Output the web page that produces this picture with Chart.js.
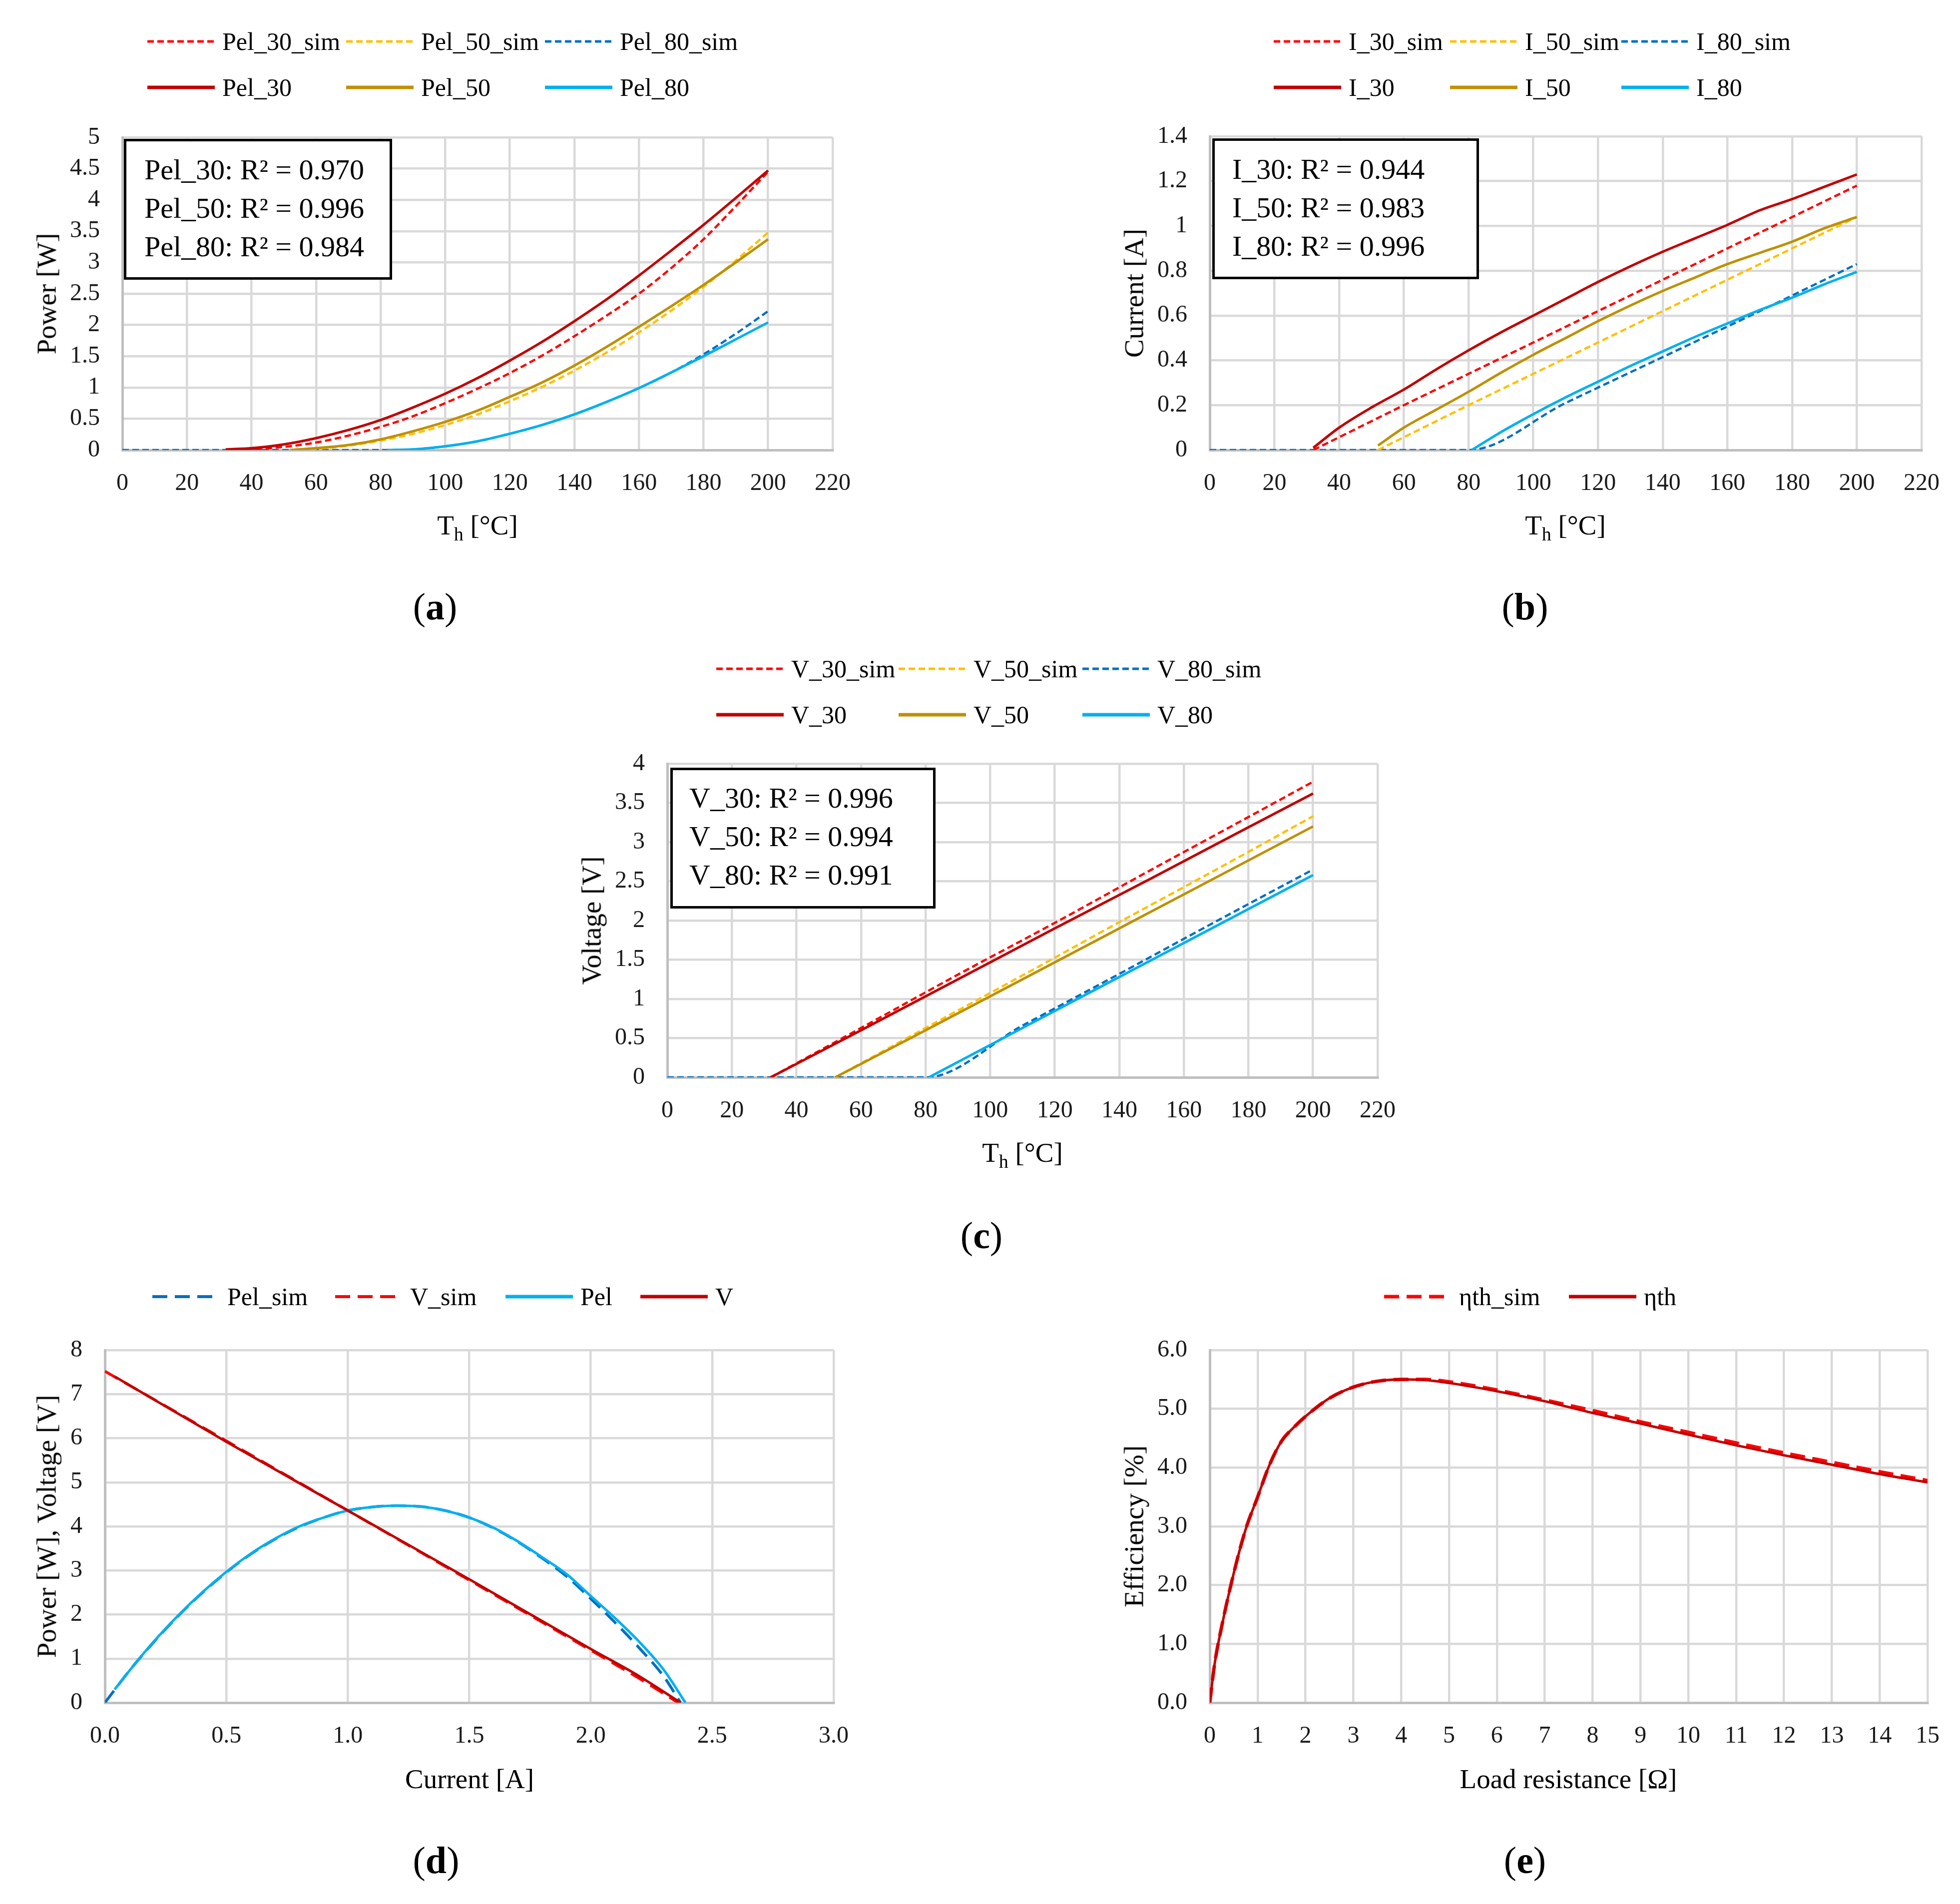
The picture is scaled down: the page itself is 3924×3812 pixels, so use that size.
<!DOCTYPE html>
<html>
<head>
<meta charset="utf-8">
<script src="https://cdn.jsdelivr.net/npm/chart.js@4.4.1/dist/chart.umd.min.js"></script>
<style>
html, body { margin: 0; padding: 0; background: #fff; }
#page { position: relative; width: 3924px; height: 3812px; background: #fff; overflow: hidden;
        font-family: 'Liberation Serif', 'Times New Roman', serif; color: #000; }
canvas { position: absolute; }
.abs { position: absolute; white-space: nowrap; line-height: 1; }
.ytitle { transform: translate(-50%, -50%) rotate(-90deg); font-size: 55px; }
.xtitle { transform: translate(-50%, -50%); font-size: 55px; }
.xtitle span { font-size: 38px; position: relative; top: 12px; }
.leg { display: flex; align-items: center; transform: translateY(-50%); font-size: 50px; }
.leg svg { margin-right: 15px; }
.rbox { border: 5px solid #000; box-sizing: border-box; font-size: 58px; line-height: 77px; background: #fff; }
.plabel { transform: translate(-50%, -50%); font-size: 76px; }
</style>
</head>
<body>
<div id="page"></div>
<script>
// Colours (Excel palette)
const RED = '#FF0000', YEL = '#FFC000', BLU = '#0070C0';
const DRED = '#C00000', GOLD = '#BF9000', LBLU = '#00B0F0';

// (a) Power vs Th
const pel30T = [32, 40, 50, 60, 70, 80, 90, 100, 110, 120, 130, 140, 150, 160, 170, 180, 190, 200];
const pel30 = [0.01, 0.03, 0.09, 0.19, 0.32, 0.48, 0.68, 0.9, 1.15, 1.43, 1.73, 2.06, 2.41, 2.79, 3.19, 3.6, 4.03, 4.47];
const pel30Sim = [0, 0.01, 0.05, 0.12, 0.23, 0.37, 0.54, 0.75, 0.98, 1.23, 1.51, 1.82, 2.15, 2.5, 2.91, 3.37, 3.9, 4.45];
const pel50T = [52, 60, 70, 80, 90, 100, 110, 120, 130, 140, 150, 160, 170, 180, 190, 200];
const pel50 = [0, 0.03, 0.08, 0.17, 0.3, 0.45, 0.63, 0.85, 1.08, 1.35, 1.65, 1.97, 2.3, 2.64, 3.0, 3.37];
const pel50Sim = [0, 0.02, 0.07, 0.15, 0.26, 0.4, 0.57, 0.78, 1.01, 1.27, 1.56, 1.88, 2.23, 2.61, 3.03, 3.48];
const pel80T = [82, 90, 100, 110, 120, 130, 140, 150, 160, 170, 180, 190, 200];
const pel80 = [0, 0.01, 0.06, 0.14, 0.26, 0.4, 0.57, 0.77, 0.99, 1.24, 1.5, 1.77, 2.04];
const pel80SimT = [0, 80, 90, 100, 110, 120, 130, 140, 150, 160, 170, 180, 190, 200];
const pel80Sim = [0, 0, 0.01, 0.06, 0.14, 0.26, 0.4, 0.57, 0.77, 0.99, 1.24, 1.53, 1.86, 2.22];

// (b) Current vs Th
const i30T = [32, 40, 50, 60, 70, 80, 90, 100, 110, 120, 130, 140, 150, 160, 170, 180, 190, 200];
const i30 = [0.01, 0.1, 0.19, 0.27, 0.36, 0.445, 0.525, 0.6, 0.675, 0.75, 0.82, 0.885, 0.945, 1.005, 1.07, 1.12, 1.175, 1.23];
const i30SimT = [32, 60, 90, 120, 150, 180, 200];
const i30Sim = [0, 0.2, 0.41, 0.62, 0.83, 1.04, 1.18];
const i50T = [52, 60, 70, 80, 90, 100, 110, 120, 130, 140, 150, 160, 170, 180, 190, 200];
const i50 = [0.02, 0.1, 0.18, 0.26, 0.345, 0.425, 0.5, 0.575, 0.645, 0.71, 0.77, 0.83, 0.88, 0.93, 0.99, 1.04];
const i50SimT = [52, 80, 110, 140, 170, 200];
const i50Sim = [0, 0.2, 0.41, 0.62, 0.83, 1.04];
const i80T = [81, 90, 100, 110, 120, 130, 140, 150, 160, 170, 180, 190, 200];
const i80 = [0, 0.08, 0.16, 0.235, 0.305, 0.375, 0.44, 0.505, 0.565, 0.625, 0.68, 0.74, 0.795];
const i80SimT = [0, 80, 110, 140, 170, 200];
const i80Sim = [0, 0, 0.21, 0.415, 0.62, 0.83];

// (c) Voltage vs Th
const v30T = [32, 60, 90, 120, 150, 180, 200];
const v30 = [0, 0.6, 1.25, 1.9, 2.54, 3.19, 3.62];
const v30Sim = [0, 0.63, 1.31, 1.97, 2.65, 3.32, 3.77];
const v50T = [52, 80, 110, 140, 170, 200];
const v50 = [0, 0.6, 1.25, 1.9, 2.55, 3.2];
const v50Sim = [0, 0.63, 1.3, 1.98, 2.65, 3.33];
const v80T = [81, 110, 140, 170, 200];
const v80 = [0, 0.63, 1.28, 1.93, 2.58];
const v80SimT = [0, 80, 110, 140, 170, 200];
const v80Sim = [0, 0, 0.66, 1.32, 1.99, 2.65];

// (d) Power and voltage vs current
const pelI = [0.04, 0.1, 0.2, 0.3, 0.4, 0.5, 0.6, 0.7, 0.8, 0.9, 1.0, 1.1, 1.2, 1.3, 1.4, 1.5, 1.6, 1.7, 1.8, 1.9, 2.0, 2.1, 2.2, 2.3, 2.39];
const pelD = [0.3, 0.72, 1.38, 1.97, 2.5, 2.97, 3.38, 3.72, 4.0, 4.2, 4.36, 4.44, 4.47, 4.45, 4.36, 4.2, 3.97, 3.66, 3.3, 2.92, 2.42, 1.92, 1.38, 0.75, 0];
const pelSimI = [0, 0.1, 0.2, 0.3, 0.4, 0.5, 0.6, 0.7, 0.8, 0.9, 1.0, 1.1, 1.2, 1.3, 1.4, 1.5, 1.6, 1.7, 1.8, 1.9, 2.0, 2.1, 2.2, 2.3, 2.37];
const pelSimD = [0, 0.72, 1.37, 1.96, 2.49, 2.96, 3.37, 3.71, 3.99, 4.2, 4.36, 4.44, 4.47, 4.45, 4.36, 4.2, 3.96, 3.65, 3.28, 2.87, 2.36, 1.82, 1.24, 0.6, 0];
const vI = [0.04, 0.5, 1.0, 1.5, 2.0, 2.2, 2.37];
const vD = [7.4, 5.92, 4.36, 2.8, 1.22, 0.6, 0];
const vSimI = [0, 0.5, 1.0, 1.5, 2.0, 2.2, 2.36];
const vSimD = [7.52, 5.94, 4.36, 2.78, 1.19, 0.55, 0];

// (e) Efficiency vs load resistance
const loadR = [0, 0.1, 0.25, 0.5, 0.75, 1, 1.25, 1.5, 1.75, 2, 2.5, 3, 3.5, 4, 4.5, 5, 6, 7, 8, 9, 10, 11, 12, 13, 14, 15];
const eta = [0, 0.65, 1.3, 2.2, 2.95, 3.5, 4.05, 4.45, 4.68, 4.87, 5.18, 5.37, 5.47, 5.5, 5.49, 5.44, 5.3, 5.13, 4.93, 4.75, 4.56, 4.38, 4.21, 4.05, 3.89, 3.75];
const etaSim = [0, 0.65, 1.3, 2.2, 2.95, 3.5, 4.05, 4.45, 4.68, 4.87, 5.18, 5.37, 5.47, 5.5, 5.5, 5.46, 5.32, 5.15, 4.97, 4.78, 4.6, 4.42, 4.25, 4.09, 3.93, 3.78];

const page = document.getElementById('page');
Chart.defaults.font.family = "'Liberation Serif', 'Times New Roman', serif";

function pts(xs, ys) { return xs.map((x, i) => ({ x: x, y: ys[i] })); }
const trim = v => String(Math.round(v * 100) / 100);
const fix1 = v => (Math.round(v * 10) / 10).toFixed(1);

function line(label, color, xs, ys, dash, width) {
    return {
        label, data: pts(xs, ys), borderColor: color, backgroundColor: color,
        borderWidth: width || 5, borderDash: dash || [], pointRadius: 0,
        cubicInterpolationMode: 'monotone', fill: false
    };
}

function axis(min, max, step, fmt, isY) {
    return {
        type: 'linear', min, max,
        ticks: {
            stepSize: step, autoSkip: false, maxRotation: 0, padding: isY ? 45 : 39,
            color: '#1a1a1a', font: { size: 48 }, callback: fmt
        },
        grid: { color: '#d9d9d9', lineWidth: 4.5, drawTicks: false },
        border: { color: '#bfbfbf', width: 5 },
        afterFit: s => { if (isY) s.width = 210; else s.height = 130; }
    };
}

// box = plot area in page pixels
function makeChart(box, xAxis, yAxis, datasets) {
    const padL = 210, padT = 100, padR = 100, padB = 130;
    const w = box.R - box.L + padL + padR, h = box.B - box.T + padT + padB;
    const c = document.createElement('canvas');
    c.width = w; c.height = h;
    c.style.left = (box.L - padL) + 'px'; c.style.top = (box.T - padT) + 'px';
    c.style.width = w + 'px'; c.style.height = h + 'px';
    page.appendChild(c);
    new Chart(c, {
        type: 'line',
        data: { datasets },
        options: {
            responsive: false, animation: false, devicePixelRatio: 1,
            layout: { padding: { left: 0, top: padT, right: padR, bottom: 0 } },
            plugins: { legend: { display: false }, tooltip: { enabled: false } },
            scales: { x: xAxis, y: yAxis }
        }
    });
}

function addText(cls, x, y, html) {
    const d = document.createElement('div');
    d.className = 'abs ' + cls;
    d.style.left = x + 'px'; d.style.top = y + 'px';
    d.innerHTML = html;
    page.appendChild(d);
}

function legendItem(x, y, color, dash, width, text) {
    const svg = `<svg width="135" height="16"><line x1="0" y1="8" x2="135" y2="8" stroke="${color}" stroke-width="${width}" stroke-dasharray="${dash}"/></svg>`;
    addText('leg', x, y, svg + '<span>' + text + '</span>');
}

function r2Box(L, T, W, H, padTop, padLeft, lines) {
    const d = document.createElement('div');
    d.className = 'abs rbox';
    Object.assign(d.style, { left: L + 'px', top: T + 'px', width: W + 'px', height: H + 'px',
        paddingTop: padTop + 'px', paddingLeft: padLeft + 'px' });
    d.innerHTML = lines.map(s => '<div>' + s + '</div>').join('');
    page.appendChild(d);
}

const SD = '13 7', LD = '30 15';

// ---- (a)
const boxA = { L: 245, R: 1667, T: 275, B: 901 };
makeChart(boxA, axis(0, 220, 20, trim, false), axis(0, 5, 0.5, trim, true), [
    line('Pel_30', DRED, pel30T, pel30),
    line('Pel_50', GOLD, pel50T, pel50),
    line('Pel_80', LBLU, pel80T, pel80),
    line('Pel_30_sim', RED, pel30T, pel30Sim, [13, 7], 4.5),
    line('Pel_50_sim', YEL, pel50T, pel50Sim, [13, 7], 4.5),
    line('Pel_80_sim', BLU, pel80SimT, pel80Sim, [13, 7], 4.5)
]);
// ---- (b)
const boxB = { L: 2422, R: 3847, T: 273, B: 901 };
makeChart(boxB, axis(0, 220, 20, trim, false), axis(0, 1.4, 0.2, trim, true), [
    line('I_30', DRED, i30T, i30),
    line('I_50', GOLD, i50T, i50),
    line('I_80', LBLU, i80T, i80),
    line('I_30_sim', RED, i30SimT, i30Sim, [13, 7], 4.5),
    line('I_50_sim', YEL, i50SimT, i50Sim, [13, 7], 4.5),
    line('I_80_sim', BLU, i80SimT, i80Sim, [13, 7], 4.5)
]);
// ---- (c)
const boxC = { L: 1336, R: 2758, T: 1529, B: 2157 };
makeChart(boxC, axis(0, 220, 20, trim, false), axis(0, 4, 0.5, trim, true), [
    line('V_30', DRED, v30T, v30),
    line('V_50', GOLD, v50T, v50),
    line('V_80', LBLU, v80T, v80),
    line('V_30_sim', RED, v30T, v30Sim, [13, 7], 4.5),
    line('V_50_sim', YEL, v50T, v50Sim, [13, 7], 4.5),
    line('V_80_sim', BLU, v80SimT, v80Sim, [13, 7], 4.5)
]);
// ---- (d)
const boxD = { L: 210, R: 1669, T: 2703, B: 3409 };
makeChart(boxD, axis(0, 3, 0.5, fix1, false), axis(0, 8, 1, trim, true), [
    line('V', DRED, vI, vD),
    line('Pel', LBLU, pelI, pelD),
    line('V_sim', RED, vSimI, vSimD, [30, 15], 5.5),
    line('Pel_sim', BLU, pelSimI, pelSimD, [30, 15], 5.5)
]);
// ---- (e)
const boxE = { L: 2422, R: 3859, T: 2703, B: 3409 };
makeChart(boxE, axis(0, 15, 1, trim, false), axis(0, 6, 1, fix1, true), [
    line('ηth', DRED, loadR, eta),
    line('ηth_sim', RED, loadR, etaSim, [30, 15], 7)
]);

// ---- legends
const rows = [
    { y1: 83, y2: 175, xs: [295, 693, 1091], names: ['Pel_30', 'Pel_50', 'Pel_80'] },
    { y1: 83, y2: 175, xs: [2550, 2903, 3246], names: ['I_30', 'I_50', 'I_80'] },
    { y1: 1339, y2: 1431, xs: [1434, 1799, 2167], names: ['V_30', 'V_50', 'V_80'] }
];
rows.forEach(r => {
    const simC = [RED, YEL, BLU], solC = [DRED, GOLD, LBLU];
    r.xs.forEach((x, i) => {
        legendItem(x, r.y1, simC[i], SD, 5, r.names[i] + '_sim');
        legendItem(x, r.y2, solC[i], '', 7, r.names[i]);
    });
});
legendItem(305, 2596, BLU, LD, 6, 'Pel_sim');
legendItem(671, 2596, RED, LD, 6, 'V_sim');
legendItem(1012, 2596, LBLU, '', 7, 'Pel');
legendItem(1282, 2596, DRED, '', 7, 'V');
legendItem(2771, 2596, RED, LD, 7, 'ηth_sim');
legendItem(3141, 2596, DRED, '', 7, 'ηth');

// ---- R² boxes
r2Box(248, 278, 537, 282, 18, 36, ['Pel_30: R² = 0.970', 'Pel_50: R² = 0.996', 'Pel_80: R² = 0.984']);
r2Box(2427, 277, 534, 282, 18, 35, ['I_30: R² = 0.944', 'I_50: R² = 0.983', 'I_80: R² = 0.996']);
r2Box(1342, 1537, 531, 282, 17, 33, ['V_30: R² = 0.996', 'V_50: R² = 0.994', 'V_80: R² = 0.991']);

// ---- axis titles
const th = 'T<span>h</span> [°C]';
addText('xtitle', 956, 1051, th);
addText('xtitle', 3134, 1051, th);
addText('xtitle', 2047, 2307, th);
addText('xtitle', 940, 3561, 'Current [A]');
addText('xtitle', 3140, 3561, 'Load resistance [Ω]');
addText('ytitle', 93, 588, 'Power [W]');
addText('ytitle', 2270, 587, 'Current [A]');
addText('ytitle', 1184, 1843, 'Voltage [V]');
addText('ytitle', 93, 3056, 'Power [W], Voltage [V]');
addText('ytitle', 2270, 3056, 'Efficiency [%]');

// ---- panel labels
addText('plabel', 871, 1214, '(<b>a</b>)');
addText('plabel', 3053, 1214, '(<b>b</b>)');
addText('plabel', 1965, 2473, '(<b>c</b>)');
addText('plabel', 873, 3724, '(<b>d</b>)');
addText('plabel', 3053, 3724, '(<b>e</b>)');
</script>
</body>
</html>
